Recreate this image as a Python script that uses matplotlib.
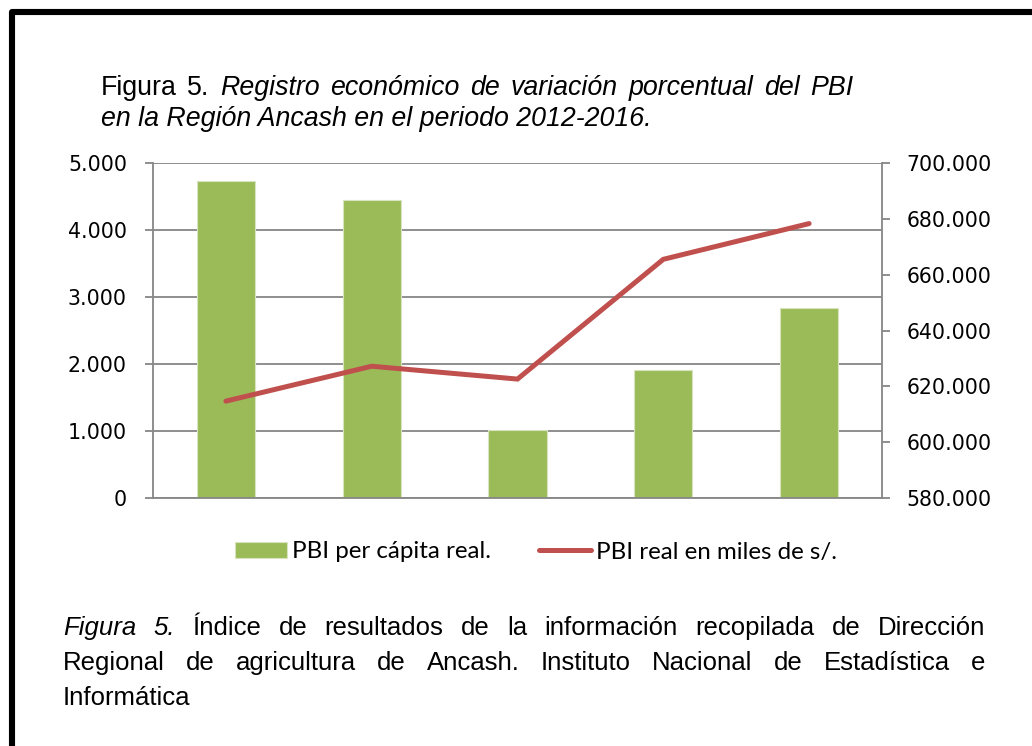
import matplotlib
matplotlib.use('Agg')
import matplotlib.pyplot as plt
from matplotlib import font_manager
from matplotlib.lines import Line2D
import numpy as np

# Datos (2012-2016)
years = ['2012', '2013', '2014', '2015', '2016']
pbi_per_capita = [4735, 4450, 1015, 1915, 2840]
pbi_real = [614700, 627200, 622600, 665500, 678300]
left_ticks = [0, 1000, 2000, 3000, 4000, 5000]
right_ticks = [580000, 600000, 620000, 640000, 660000, 680000, 700000]

W, H = 1032, 746
GREEN = '#9BBB59'
RED = '#C0504D'
GRAY = '#868686'


def has_font(name):
    try:
        font_manager.findfont(name, fallback_to_default=False)
        return True
    except Exception:
        return False


caption_font = 'Liberation Sans Narrow' if has_font('Liberation Sans Narrow') else 'Liberation Sans'
caption_size = 22.5 if caption_font == 'Liberation Sans Narrow' else 18.5


def miles(v):
    return f'{v:,.0f}'.replace(',', '.')


fig = plt.figure(figsize=(W / 100, H / 100), dpi=100)
renderer = fig.canvas.get_renderer()


def fx(x):
    return x / W


def fy(y):
    return 1 - y / H


def line_of_words(parts, x0, y, x1, **kw):
    # parts: lista de (palabra, estilo); la linea se justifica entre x0 y x1
    texts = [fig.text(fx(x0), fy(y), w, fontstyle=s, va='baseline', **kw) for w, s in parts]
    widths = [t.get_window_extent(renderer).width for t in texts]
    gap = (x1 - x0 - sum(widths)) / max(len(parts) - 1, 1)
    x = x0
    for t, w in zip(texts, widths):
        t.set_x(fx(x))
        x += w + gap


def words(text, style):
    return [(w, style) for w in text.split()]


# Marco negro
fig.add_artist(Line2D([fx(12), fx(12), fx(W)], [fy(H), fy(12), fy(12)],
                      color='black', lw=4.4, solid_joinstyle='round'))

# Titulo
tkw = dict(family='Liberation Sans', fontsize=19.3, color='black')
line_of_words(words('Figura 5.', 'normal') +
              words('Registro económico de variación porcentual del PBI', 'italic'),
              101, 95, 853, **tkw)
fig.text(fx(101), fy(126), 'en la Región Ancash en el periodo 2012-2016.',
         fontstyle='italic', va='baseline', **tkw)

# Grafico
ax = fig.add_axes([fx(153), fy(498), (882 - 153) / W, (498 - 163) / H])
x = np.arange(len(years))
bars = ax.bar(x, pbi_per_capita, width=0.4, color=GREEN, edgecolor='#D7E4BD',
              linewidth=0.8, zorder=2, label='PBI per cápita real.')
ax.set_xlim(-0.5, len(years) - 0.5)
ax.set_ylim(left_ticks[0], left_ticks[-1])
ax.set_yticks(left_ticks)
ax.set_yticklabels([miles(v) for v in left_ticks])
ax.set_xticks([])
ax.set_axisbelow(True)
ax.yaxis.grid(True, color=GRAY, lw=1.3)
ax.tick_params(axis='y', direction='out', length=5.8, width=1.3, color=GRAY,
               labelsize=14.8, pad=13)
for s in ['top', 'right']:
    ax.spines[s].set_visible(False)
for s in ['left', 'bottom']:
    ax.spines[s].set_color(GRAY)
    ax.spines[s].set_linewidth(1.3)

ax2 = ax.twinx()
line, = ax2.plot(x, pbi_real, color=RED, lw=3.6, solid_capstyle='round',
                 solid_joinstyle='miter', zorder=3, label='PBI real en miles de s/.')
ax2.set_ylim(right_ticks[0], right_ticks[-1])
ax2.set_yticks(right_ticks)
ax2.set_yticklabels([miles(v) for v in right_ticks])
ax2.tick_params(axis='y', direction='out', length=5.5, width=1.3, color=GRAY,
                labelsize=14.8, pad=12)
for s in ['top', 'left', 'bottom']:
    ax2.spines[s].set_visible(False)
ax2.spines['right'].set_color(GRAY)
ax2.spines['right'].set_linewidth(1.3)

for t in ax.get_yticklabels() + ax2.get_yticklabels():
    t.set_family('DejaVu Sans')

# Leyenda
leg_size = 17.4
px_per_em = leg_size * 100 / 72
fig.legend([bars, line], ['PBI per cápita real.', 'PBI real en miles de s/.'],
           loc='center', bbox_to_anchor=(fx(536), fy(552)), ncol=2, frameon=False,
           prop={'family': 'Lato', 'size': leg_size},
           handlelength=52 / px_per_em, handleheight=15 / px_per_em,
           handletextpad=6 / px_per_em, columnspacing=47 / px_per_em,
           borderpad=0, borderaxespad=0)

# Pie de figura
ckw = dict(family=caption_font, fontsize=caption_size, color='black')
line_of_words(words('Figura 5.', 'italic') +
              words('Índice de resultados de la información recopilada de Dirección', 'normal'),
              63, 635, 985, **ckw)
line_of_words(words('Regional de agricultura de Ancash. Instituto Nacional de Estadística e', 'normal'),
              63, 670, 985, **ckw)
fig.text(fx(63), fy(705), 'Informática', va='baseline', **ckw)

fig.savefig('out.png', dpi=100)
